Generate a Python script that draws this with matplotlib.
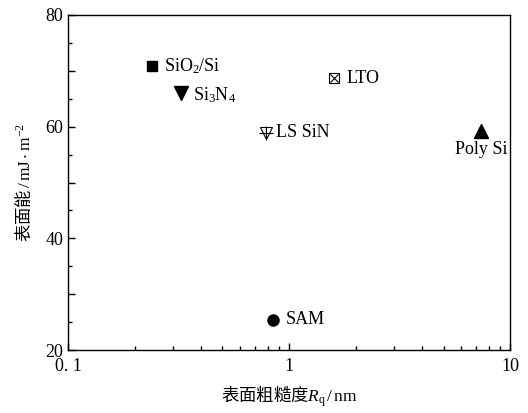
import matplotlib
matplotlib.use('Agg')
import matplotlib.pyplot as plt
from matplotlib.ticker import MultipleLocator, FixedLocator, FixedFormatter, LogLocator, NullFormatter

plt.rcParams['font.family'] = ['Liberation Serif', 'Noto Sans CJK SC']
plt.rcParams['mathtext.fontset'] = 'custom'
plt.rcParams['mathtext.rm'] = 'Liberation Serif'
plt.rcParams['mathtext.it'] = 'Liberation Serif:italic'
plt.rcParams['mathtext.bf'] = 'Liberation Serif:bold'
plt.rcParams['mathtext.fallback'] = 'stix'

# surface roughness Rq (nm) and surface energy (mJ/m^2)
names = [r'SiO$_2$/Si', r'Si$_3$N$_4$', 'LTO', 'LS SiN', 'Poly Si', 'SAM']
rq = [0.24, 0.325, 1.6, 0.79, 7.4, 0.85]
energy = [70.9, 66.0, 68.7, 58.9, 59.2, 25.4]

fig = plt.figure(figsize=(5.28, 4.13), dpi=100)
ax = fig.add_axes([0.1288, 0.1525, 0.8372, 0.8112])

# SiO2/Si
ax.plot(rq[0], energy[0], 's', color='black', ms=7)
# Si3N4
ax.plot(rq[1], energy[1], 'v', color='black', ms=9.5)
# LTO: boxed cross
ax.plot(rq[2], energy[2], 's', mfc='white', mec='black', mew=0.8, ms=7)
ax.plot(rq[2], energy[2], 'x', color='black', mew=0.8, ms=6)
# LS SiN: open triangle with a plus
ax.plot(rq[3], energy[3], 'v', mfc='white', mec='black', mew=0.8, ms=8.5)
ax.plot(rq[3], energy[3], '+', color='black', mew=0.8, ms=10)
# Poly Si
ax.plot(rq[4], energy[4], '^', color='black', ms=9.5)
# SAM
ax.plot(rq[5], energy[5], 'o', color='black', ms=8)

offsets = [(12, 0), (12, -2), (12, 0), (10, 0), (0, -18), (12, 0)]
aligns = ['left', 'left', 'left', 'left', 'center', 'left']
for n, x, y, off, ha in zip(names, rq, energy, offsets, aligns):
    ax.annotate(n, (x, y), xytext=off, textcoords='offset pixels',
                ha=ha, va='center', fontsize=13)

ax.set_xscale('log')
ax.set_xlim(0.1, 10)
ax.set_ylim(20, 80)

ax.xaxis.set_major_locator(FixedLocator([0.1, 1, 10]))
ax.xaxis.set_major_formatter(FixedFormatter(['0. 1', '1', '10']))
ax.xaxis.set_minor_locator(LogLocator(base=10, subs=range(2, 10)))
ax.xaxis.set_minor_formatter(NullFormatter())

ax.yaxis.set_major_locator(MultipleLocator(10))
ax.yaxis.set_major_formatter(plt.FuncFormatter(lambda v, p: '%d' % v if v % 20 == 0 else ''))
ax.yaxis.set_minor_locator(MultipleLocator(5))

ax.tick_params(which='both', direction='in', top=False, right=False, labelsize=13, width=1)
ax.tick_params(which='major', length=5)
ax.tick_params(which='minor', length=3)
ax.tick_params(axis='x', pad=6)
for s in ax.spines.values():
    s.set_linewidth(1)

# Chinese part in the CJK face, units through mathtext
ax.set_xlabel(r'表面粗糙度$R_\mathrm{q}\,/\,\mathrm{nm}$', fontsize=12.5, labelpad=6,
              family='Noto Sans CJK SC')
ax.set_ylabel(r'表面能$\,/\,\mathrm{mJ\cdot m^{-2}}$', fontsize=12.5, labelpad=8,
              family='Noto Sans CJK SC')

fig.savefig('out.png', dpi=100)
